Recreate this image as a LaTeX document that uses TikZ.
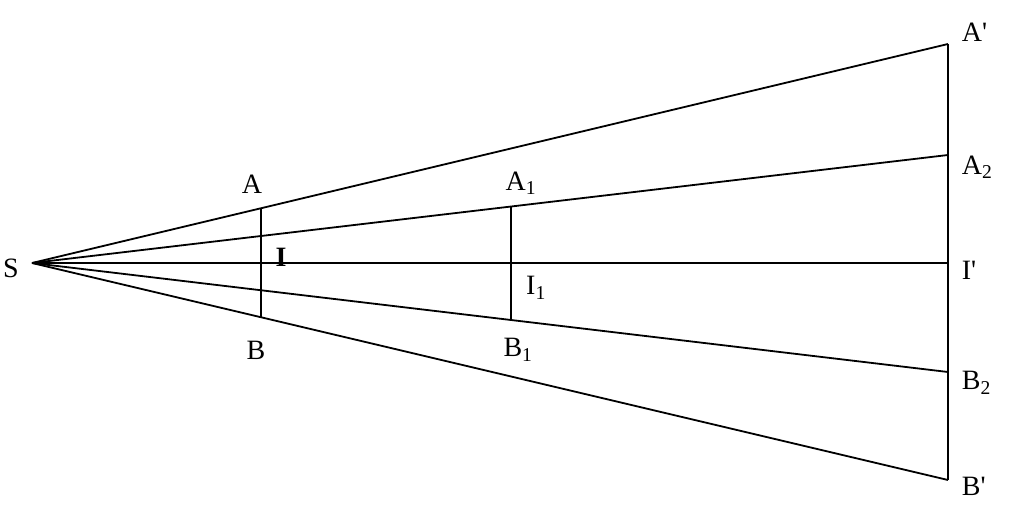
\documentclass[tikz,border=0pt]{standalone}
\usepackage{fontspec}
\setmainfont{Liberation Serif}
\begin{document}
\begin{tikzpicture}[x=1pt,y=-1pt,line width=1.8pt,
  lbl/.style={font=\fontsize{28}{30}\selectfont,inner sep=1pt}]
\useasboundingbox (0,0) rectangle (1024,505);
\coordinate (S) at (32,263);
\coordinate (A) at (261,208);
\coordinate (B) at (261,318);
\coordinate (I) at (261,263);
\coordinate (A1) at (511,207);
\coordinate (B1) at (511,319);
\coordinate (I1) at (511,263);
\coordinate (Ap) at (948,44);
\coordinate (A2) at (948,155);
\coordinate (Ip) at (948,263);
\coordinate (B2) at (948,372);
\coordinate (Bp) at (948,480);
\draw (S) -- (Ap);
\draw (S) -- (A2);
\draw (S) -- (Ip);
\draw (S) -- (B2);
\draw (S) -- (Bp);
\draw (Ap) -- (Bp);
\draw (A) -- (B);
\draw (A1) -- (B1);
\node[lbl] (tS) at (11,268) {S};
\node[lbl] (tA) at (252,184) {A};
\node[lbl] (tB) at (256,350) {B};
\node[lbl] (tI) at (281,257) {\textbf{I}};
\node[lbl] (tA1) at (521,183) {A\textsubscript{1}};
\node[lbl] (tI1) at (536,288) {I\textsubscript{1}};
\node[lbl] (tB1) at (518,350) {B\textsubscript{1}};
\node[lbl,anchor=west] (tAp) at (960,32) {A\textquotesingle};
\node[lbl,anchor=west] (tA2) at (960,167) {A\textsubscript{2}};
\node[lbl,anchor=west] (tIp) at (960,270) {I\textquotesingle};
\node[lbl,anchor=west] (tB2) at (960,383) {B\textsubscript{2}};
\node[lbl,anchor=west] (tBp) at (960,486) {B\textquotesingle};
\end{tikzpicture}
\end{document}
